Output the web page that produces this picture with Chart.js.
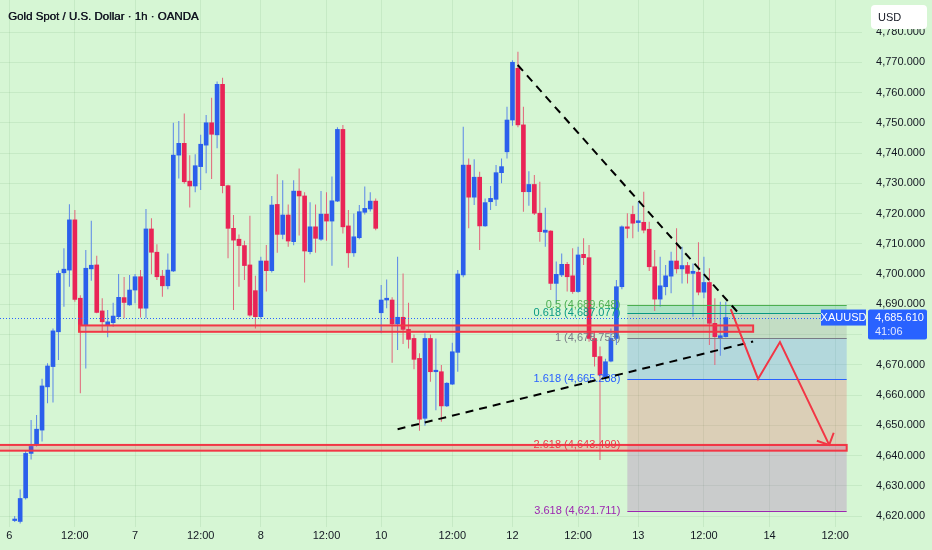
<!DOCTYPE html>
<html>
<head>
<meta charset="utf-8">
<script src="https://cdn.jsdelivr.net/npm/chart.js@4.4.1/dist/chart.umd.min.js"></script>
<style>
  html, body { margin: 0; padding: 0; background: #d6f6d4; overflow: hidden; }
  canvas { display: block; }
</style>
</head>
<body>
<canvas id="chart" width="932" height="550"></canvas>
<script>
// XAUUSD 1h candles (bar index 0..130)
const opens = [4618.5,4618.2,4626,4640.7,4643.5,4648.4,4662.7,4669.4,4680.9,4700.4,4701.3,4717.9,4692,4683.1,4701.7,4703,4687.8,4683.1,4683.9,4685.9,
  4692.2,4689.8,4694.7,4699.1,4688.7,4714.9,4707.2,4699.3,4696.1,4701,4739.3,4743.2,4730.7,4729.1,4735.5,4742.6,4750,4746,4762.7,4729.2,
  4715.1,4711.5,4709.4,4703,4694.5,4685.9,4704.3,4701.1,4723,4713.1,4719.5,4710.7,4727.4,4725.8,4707.4,4715.6,4711.5,4719.8,4717.5,4724.1,
  4747.8,4715.9,4707,4712,4720.4,4721.5,4724.1,4687.2,4691.4,4691.4,4683.5,4685.7,4681.7,4678.7,4672.1,4652.3,4678.7,4667.7,4667.7,4656.4,
  4663.6,4674.1,4699.7,4736,4725.4,4732,4715.9,4723.9,4724.7,4733.5,4740.4,4750.9,4768,4749.3,4727.2,4729.6,4720.1,4713.8,4714.2,4696.9,
  4699.7,4703.2,4699.4,4694.2,4706.5,4705.4,4678.7,4672.7,4666,4671.2,4678.7,4695.8,4715.6,4719.7,4717,4717.1,4714.8,4702.4,4691.7,4695.8,
  4699.3,4704.3,4701.7,4702.8,4700.2,4700.6,4694,4697.2,4683.7,4679,4679.3];
const highs = [4620,4628.8,4641.5,4651.7,4653.4,4665.4,4670.5,4682,4701.2,4708.5,4723.1,4721.2,4693,4707.9,4717.6,4706,4692,4688.1,4690.5,4700,
  4699,4699.7,4700,4701.3,4721.5,4718.4,4709.8,4701.3,4706.8,4750,4750.6,4753.1,4739.3,4739.6,4746,4752.6,4758.3,4763.6,4764.9,4729.5,
  4719.5,4713.1,4711,4719.3,4699.4,4705.7,4709.6,4725.8,4733,4731,4723,4731,4734.9,4727,4723.7,4723,4727.4,4727,4732.2,4748.5,
  4749.3,4721.2,4720,4722.8,4728.9,4727,4725,4696.4,4698.2,4692.3,4705.7,4700.2,4690.5,4680,4673.8,4680.4,4680,4678.7,4669.9,4664.2,
  4677.3,4701.3,4748.7,4738.2,4737.9,4733.8,4725,4729.1,4736,4738.2,4755.3,4770.7,4773.5,4755.3,4734,4732.7,4730.5,4721.9,4714.5,4704.1,
  4706.8,4704,4708.5,4709,4711.8,4709.6,4681,4676,4672,4682,4698,4716,4720.1,4722.6,4723.9,4727.2,4717.3,4707.9,4705.7,4703,
  4707.4,4715.1,4709,4704,4703.5,4710.5,4705.7,4701.9,4692,4690.8,4690.8];
const lows = [4618,4617.5,4625.5,4638.7,4643,4644.6,4657.3,4657.5,4671.6,4689.2,4695.8,4690.8,4660.6,4668.8,4697.8,4687,4680.9,4679.1,4682.6,4685,
  4685.4,4689.5,4690.3,4685.6,4685.4,4699.9,4698,4692.5,4695,4700.7,4731.6,4729.8,4722,4727,4727.8,4733.3,4731.4,4741.6,4726.7,4705.2,
  4688.1,4695.8,4698,4685.9,4682,4685.2,4694.2,4700.5,4707,4711.5,4709,4709.5,4712.7,4697.2,4706.5,4707,4711,4711,4702.7,4723.8,
  4713.4,4702.1,4705.7,4711.5,4719.7,4720.7,4714.5,4680.4,4688.7,4670.7,4674.9,4676.9,4675.4,4668.5,4648.2,4649.8,4664.4,4655,4651.2,4656,
  4663.3,4667.7,4698.9,4715.1,4722.8,4707.9,4715.6,4721.2,4722.5,4730,4738.2,4749,4748.5,4720.6,4722.6,4719.5,4710.7,4709,4694.7,4690.3,
  4699,4694.2,4693.5,4693.8,4703,4677.6,4669.4,4638.5,4665,4670.8,4676.5,4695,4711.8,4711.8,4714,4713.5,4701,4687.8,4689.2,4693,
  4693.6,4700.2,4696.9,4696.9,4685.9,4693,4692,4676.5,4669.9,4673,4679];
const closes = [4619,4625.8,4640.7,4643,4648.7,4663,4669.6,4681.2,4700.2,4701.6,4717.9,4691.6,4683.1,4701.9,4702.9,4687.3,4684.2,4684.2,4686.1,4692.3,
  4690.6,4694.7,4699.1,4688.7,4714.9,4707.2,4699.1,4696.1,4701.3,4739.3,4743.2,4730.5,4729.1,4735.8,4742.9,4750,4746.2,4762.7,4729.2,4715.1,
  4711.2,4709.4,4702.8,4686.4,4685.9,4704.3,4701.1,4722.8,4713.1,4719.5,4710.9,4727.4,4725.8,4707.6,4715.6,4711.8,4719.8,4717.5,4724.2,4747.8,
  4715.6,4707,4712.3,4720.6,4721.7,4724.1,4715.1,4691.4,4692,4683.5,4685.7,4681.7,4678.4,4671.8,4652,4678.7,4667.7,4668.2,4656.4,4663.9,
  4674.3,4700,4736,4725.4,4732,4715.9,4723.6,4725,4733.5,4735.5,4750.9,4770,4749.3,4727.2,4729.6,4720.1,4714,4714.5,4696.9,4699.9,
  4703.2,4699.1,4694.2,4706.3,4705.4,4678.7,4672.7,4666.6,4671,4678.7,4695.8,4715.6,4715.1,4716.8,4717.6,4714.5,4702.4,4691.7,4696.1,4699.4,
  4704.3,4701.7,4702.8,4700.2,4700.9,4694,4697.2,4683.7,4679.3,4679.6,4685.61];

// axes
const xTickPos = [-1, 11, 22, 34, 45, 57, 67, 80, 91, 103, 114, 126, 138, 150];
const xTickLabels = ['6', '12:00', '7', '12:00', '8', '12:00', '10', '12:00', '12', '12:00', '13', '12:00', '14', '12:00'];
const yTicks = [4620, 4630, 4640, 4650, 4660, 4670, 4680, 4690, 4700, 4710, 4720, 4730, 4740, 4750, 4760, 4770, 4780];

// drawings
const zoneFrom = [11.76, -3];
const zoneTo = [135.0, 152.1];
const zoneTop = [4683.0, 4643.5];
const zoneBottom = [4680.9, 4641.6];

const fibFrom = 112.0, fibTo = 152.1;
const fibLevels = ['0.5', '0.618', '1', '1.618', '2.618', '3.618'];
const fibValues = [4689.648, 4687.077, 4678.753, 4665.288, 4643.499, 4621.711];
const fibColors = ['#4caf50', '#089981', '#787b86', '#2962ff', '#f23645', '#9c27b0'];

const trendFromI = [91.95, 70.0];
const trendFromP = [4769.1, 4648.7];
const trendToI = [132.8, 135.0];
const trendToP = [4686.1, 4677.7];

const pathI = [130.9, 135.9, 139.9, 148.9];
const pathP = [4688.4, 4665.3, 4677.5, 4643.5];

const lastPrice = 4685.61;
const countdown = '41:06';

const UP = '#2b5fec', DOWN = '#e92456';
const UP_WICK = '#5a86e8', DOWN_WICK = '#e2657a';

const bodies = [], wicks = [], bodyColors = [], wickColors = [];
opens.forEach((o, i) => {
  const up = closes[i] >= o;
  bodies.push({ x: i, y: [o, closes[i]] });
  wicks.push({ x: i, y: [lows[i], highs[i]] });
  bodyColors.push(up ? UP : DOWN);
  wickColors.push(up ? UP_WICK : DOWN_WICK);
});

const FONT = '"Liberation Sans", Arial, sans-serif';
Chart.defaults.font.family = FONT;
Chart.defaults.font.size = 11;
Chart.defaults.color = '#131722';

function rgba(hex, a) {
  const n = parseInt(hex.slice(1), 16);
  return `rgba(${n >> 16},${(n >> 8) & 255},${n & 255},${a})`;
}
function fmt(v) {
  return v.toLocaleString('en-US', { minimumFractionDigits: 3, maximumFractionDigits: 3 });
}

const overlay = {
  id: 'overlay',
  beforeDatasetsDraw(chart) {
    const c = chart.ctx, x = chart.scales.x, y = chart.scales.y, a = chart.chartArea;
    c.save();
    c.beginPath(); c.rect(a.left, a.top, a.width, a.height); c.clip();
    // fib background bands
    const fx0 = x.getPixelForValue(fibFrom), fx1 = x.getPixelForValue(fibTo);
    for (let k = 0; k < fibValues.length - 1; k++) {
      const ya = y.getPixelForValue(fibValues[k]), yb = y.getPixelForValue(fibValues[k + 1]);
      c.fillStyle = rgba(fibColors[k + 1], 0.2);
      c.fillRect(fx0, ya, fx1 - fx0, yb - ya);
    }
    c.restore();
  },
  afterDatasetsDraw(chart) {
    const c = chart.ctx, x = chart.scales.x, y = chart.scales.y, a = chart.chartArea;
    c.save();
    c.beginPath(); c.rect(a.left, a.top, a.width, a.height); c.clip();

    // fib lines
    const fx0 = x.getPixelForValue(fibFrom), fx1 = x.getPixelForValue(fibTo);
    c.lineWidth = 1;
    fibValues.forEach((v, k) => {
      const yy = Math.round(y.getPixelForValue(v)) + 0.5;
      c.strokeStyle = fibColors[k];
      c.beginPath(); c.moveTo(fx0, yy); c.lineTo(fx1, yy); c.stroke();
    });

    // support zones
    zoneTop.forEach((t, k) => {
      const x0 = x.getPixelForValue(zoneFrom[k]), x1 = x.getPixelForValue(zoneTo[k]);
      const y0 = y.getPixelForValue(t), y1 = y.getPixelForValue(zoneBottom[k]);
      c.fillStyle = 'rgba(242,54,69,0.22)';
      c.fillRect(x0, y0, x1 - x0, y1 - y0);
      c.strokeStyle = '#f23645';
      c.lineWidth = 2;
      c.strokeRect(x0, y0, x1 - x0, y1 - y0);
    });

    // fib labels
    c.font = '11px ' + FONT;
    c.textAlign = 'right';
    c.textBaseline = 'middle';
    fibValues.forEach((v, k) => {
      c.fillStyle = fibColors[k];
      c.fillText(`${fibLevels[k]} (${fmt(v)})`, fx0 - 7, y.getPixelForValue(v));
    });

    // trend lines
    c.strokeStyle = '#000';
    c.lineWidth = 2;
    c.setLineDash([8, 6]);
    trendFromI.forEach((i0, k) => {
      c.beginPath();
      c.moveTo(x.getPixelForValue(i0), y.getPixelForValue(trendFromP[k]));
      c.lineTo(x.getPixelForValue(trendToI[k]), y.getPixelForValue(trendToP[k]));
      c.stroke();
    });
    c.setLineDash([]);

    // projected path with arrow
    c.strokeStyle = '#f23645';
    c.lineWidth = 2;
    c.beginPath();
    pathI.forEach((i, k) => {
      const px = x.getPixelForValue(i), py = y.getPixelForValue(pathP[k]);
      if (k === 0) c.moveTo(px, py); else c.lineTo(px, py);
    });
    c.stroke();
    const n = pathI.length;
    const tx = x.getPixelForValue(pathI[n - 1]), ty = y.getPixelForValue(pathP[n - 1]);
    const sx = x.getPixelForValue(pathI[n - 2]), sy = y.getPixelForValue(pathP[n - 2]);
    const ang = Math.atan2(ty - sy, tx - sx);
    c.beginPath();
    c.moveTo(tx - 13 * Math.cos(ang - 0.8), ty - 13 * Math.sin(ang - 0.8));
    c.lineTo(tx, ty);
    c.lineTo(tx - 13 * Math.cos(ang + 0.8), ty - 13 * Math.sin(ang + 0.8));
    c.stroke();

    c.restore();

    // last price dotted line
    c.save();
    const ly = Math.round(y.getPixelForValue(lastPrice)) + 0.5;
    c.strokeStyle = '#2962ff';
    c.lineWidth = 1;
    c.setLineDash([1, 2]);
    c.beginPath(); c.moveTo(a.left, ly); c.lineTo(a.right, ly); c.stroke();
    c.restore();
  },
  afterDraw(chart) {
    const c = chart.ctx, y = chart.scales.y, a = chart.chartArea;
    const ly = y.getPixelForValue(lastPrice);
    c.save();
    c.font = '11px ' + FONT;
    c.textBaseline = 'middle';

    // symbol tag
    c.fillStyle = '#2962ff';
    c.fillRect(a.right - 41, ly - 8, 45, 16);
    c.fillStyle = '#fff';
    c.textAlign = 'center';
    c.fillText('XAUUSD', a.right - 18.5, ly);

    // price + countdown box
    c.fillStyle = '#2962ff';
    c.beginPath(); c.roundRect(a.right + 6, ly - 8, 59, 30, 2); c.fill();
    c.fillStyle = '#fff';
    c.textAlign = 'left';
    c.fillText(fmt(lastPrice), a.right + 13, ly);
    c.fillStyle = '#dfe6ff';
    c.fillText(countdown, a.right + 13, ly + 14);

    // currency box
    c.fillStyle = '#fff';
    c.beginPath(); c.roundRect(871, 5, 56, 24, 4); c.fill();
    c.fillStyle = '#131722';
    c.fillText('USD', 878, 17.5);

    // title
    c.font = '11.5px ' + FONT;
    c.fillText('Gold Spot / U.S. Dollar \u00b7 1h \u00b7 OANDA', 8, 17);
    c.fillText('Gold Spot / U.S. Dollar \u00b7 1h \u00b7 OANDA', 8.4, 17);
    c.restore();
  }
};

new Chart(document.getElementById('chart'), {
  type: 'bar',
  data: {
    datasets: [
      { label: 'body', data: bodies, backgroundColor: bodyColors, barThickness: 4, grouped: false, order: 1, borderWidth: 0 },
      { label: 'wick', data: wicks, backgroundColor: wickColors, barThickness: 1, grouped: false, order: 2, borderWidth: 0, inflateAmount: 0 }
    ]
  },
  options: {
    responsive: false,
    animation: false,
    layout: { padding: { right: 7, left: 0, top: 0, bottom: 0 } },
    plugins: { legend: { display: false }, tooltip: { enabled: false } },
    scales: {
      x: {
        type: 'linear',
        min: -2.687,
        max: 154.9,
        offset: false,
        grid: { offset: false, color: 'rgba(0,80,0,0.07)', drawTicks: false },
        border: { display: false },
        afterBuildTicks: (axis) => { axis.ticks = xTickPos.map(v => ({ value: v })); },
        afterFit: (axis) => { axis.height = 23; axis.paddingLeft = 0; axis.paddingRight = 0; },
        ticks: {
          autoSkip: false,
          maxRotation: 0,
          padding: 2,
          color: '#131722',
          callback: (v, i) => xTickLabels[i]
        }
      },
      y: {
        position: 'right',
        min: 4616.37,
        max: 4790.58,
        grid: { color: 'rgba(0,80,0,0.07)', drawTicks: false },
        border: { display: false },
        afterBuildTicks: (axis) => { axis.ticks = yTicks.map(v => ({ value: v })); },
        afterFit: (axis) => { axis.width = 63; axis.paddingTop = 0; axis.paddingBottom = 0; },
        ticks: {
          crossAlign: 'far',
          color: '#131722',
          callback: (v) => fmt(v)
        }
      }
    }
  },
  plugins: [overlay]
});
</script>
</body>
</html>
